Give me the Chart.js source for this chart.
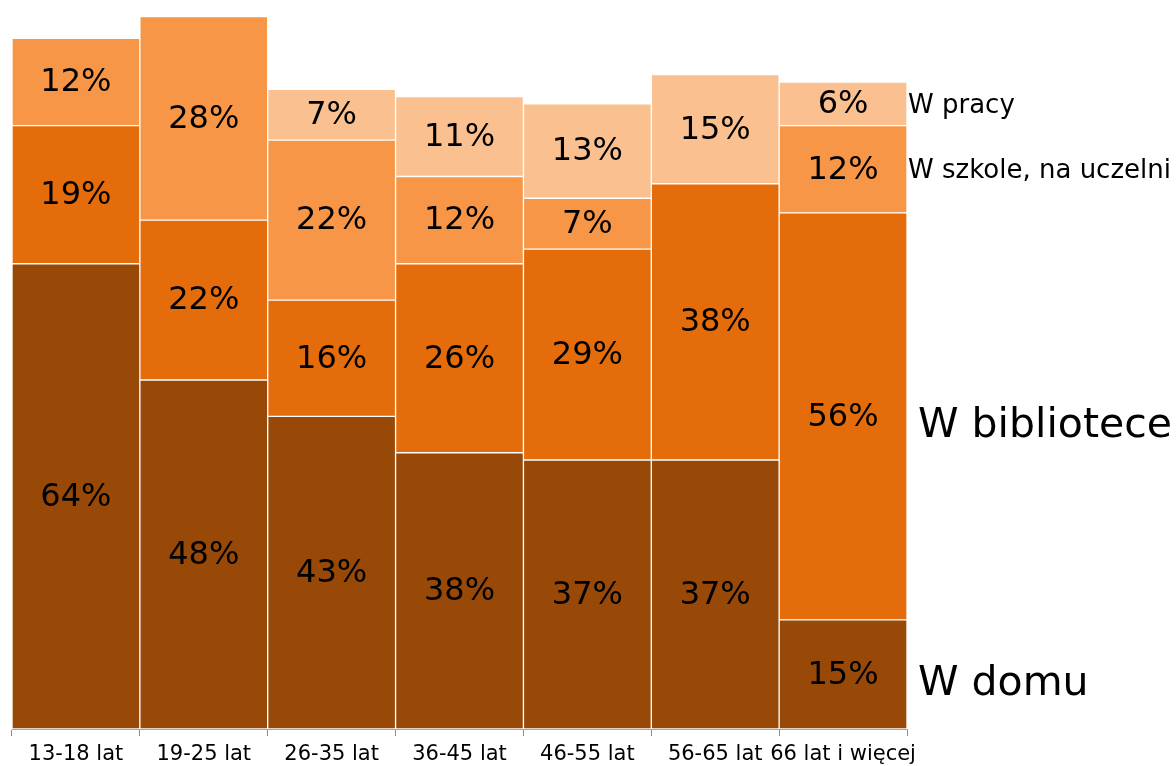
<!DOCTYPE html>
<html>
<head>
<meta charset="utf-8">
<script src="https://cdn.jsdelivr.net/npm/chart.js@4"></script>
<style>
  html, body { margin: 0; padding: 0; background: #fff; }
  #wrap { width: 1176px; height: 766px; }
</style>
</head>
<body>
<div id="wrap"><canvas id="placeChart"></canvas></div>
<script>
// Age groups (categories)
const ageGroups = ['13-18 lat', '19-25 lat', '26-35 lat', '36-45 lat', '46-55 lat', '56-65 lat', '66 lat i więcej'];

// Share of reading place, % per age group
const wDomu = [64, 48, 43, 38, 37, 37, 15];
const wBibliotece = [19, 22, 16, 26, 29, 38, 56];
const wSzkole = [12, 28, 22, 12, 7, 0, 12];
const wPracy = [0, 0, 7, 11, 13, 15, 6];

const seriesNames = ['W domu', 'W bibliotece', 'W szkole, na uczelni', 'W pracy'];
const seriesColors = ['#984807', '#E46C0A', '#F79646', '#FAC090'];

const FONT = "'DejaVu Sans', Verdana, sans-serif";

// Percent labels inside each segment
const segmentLabels = {
    id: 'segmentLabels',
    afterDatasetsDraw(chart) {
        const ctx = chart.ctx;
        ctx.save();
        ctx.font = '32px ' + FONT;
        ctx.fillStyle = '#000';
        ctx.textAlign = 'center';
        ctx.textBaseline = 'middle';
        chart.data.datasets.forEach((ds, i) => {
            chart.getDatasetMeta(i).data.forEach((bar, j) => {
                const v = ds.data[j];
                if (!v) return;
                ctx.fillText(v + '%', bar.x, (bar.y + bar.base) / 2 + 1);
            });
        });
        ctx.restore();
    }
};

// Series names next to the last bar
const seriesLabels = {
    id: 'seriesLabels',
    afterDatasetsDraw(chart) {
        const ctx = chart.ctx;
        const last = ageGroups.length - 1;
        const right = chart.chartArea.right;
        ctx.save();
        ctx.fillStyle = '#000';
        ctx.textAlign = 'left';
        ctx.textBaseline = 'middle';
        chart.data.datasets.forEach((ds, i) => {
            const bar = chart.getDatasetMeta(i).data[last];
            const mid = (bar.y + bar.base) / 2;
            const big = i < 2;
            ctx.font = (big ? '41px ' : '26px ') + FONT;
            ctx.fillText(ds.label, right + (big ? 11 : 1), mid + (big ? 10 : 2));
        });
        ctx.restore();
    }
};

const placeChart = document.getElementById('placeChart');
new Chart(placeChart, {
    type: 'bar',
    data: {
        labels: ageGroups,
        datasets: [wDomu, wBibliotece, wSzkole, wPracy].map((vals, i) => ({
            label: seriesNames[i],
            data: vals,
            backgroundColor: seriesColors[i],
            borderColor: '#ffffff',
            borderWidth: 1,
            borderSkipped: false,
            barPercentage: 1,
            categoryPercentage: 1
        }))
    },
    options: {
        responsive: true,
        maintainAspectRatio: false,
        animation: false,
        layout: { padding: { left: 12, right: 269, top: 2, bottom: 0 } },
        plugins: {
            legend: { display: false },
            tooltip: { enabled: false }
        },
        scales: {
            x: {
                stacked: true,
                afterFit: (scale) => { scale.height = 37; },
                grid: {
                    display: true,
                    offset: true,
                    drawOnChartArea: false,
                    drawTicks: true,
                    tickLength: 7,
                    color: '#8c8c8c'
                },
                border: { display: true, color: '#a6a6a6', width: 1 },
                ticks: {
                    color: '#000',
                    font: { family: FONT, size: 21 },
                    padding: 6,
                    maxRotation: 0,
                    autoSkip: false
                }
            },
            y: {
                stacked: true,
                display: false,
                min: 0,
                max: 100
            }
        }
    },
    plugins: [segmentLabels, seriesLabels]
});
</script>
</body>
</html>
